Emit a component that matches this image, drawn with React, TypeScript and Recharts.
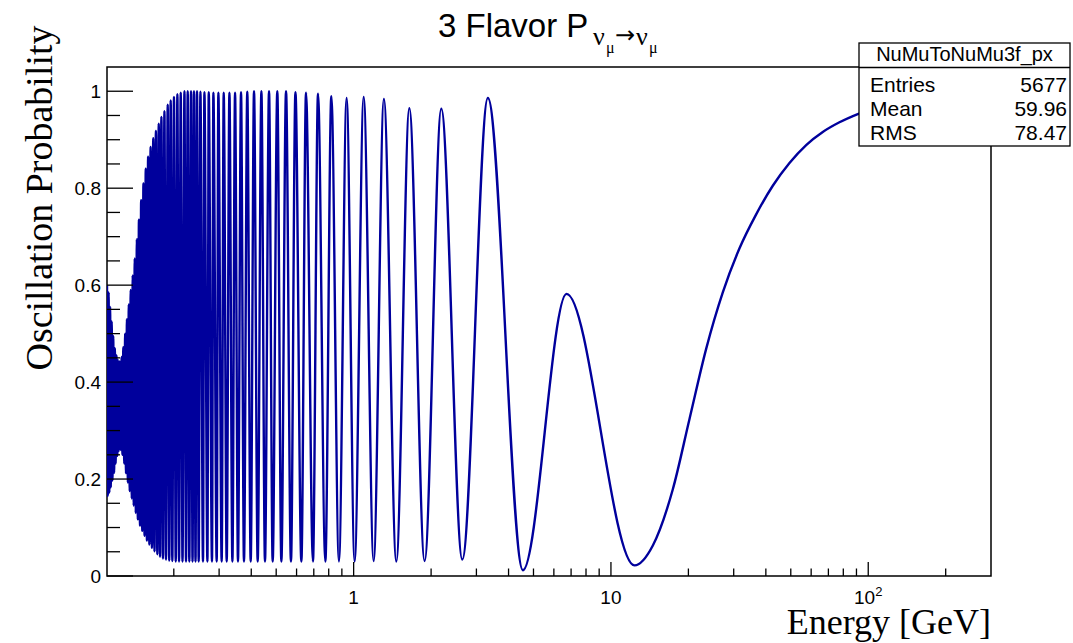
import { LineChart, Line, XAxis, YAxis, ReferenceArea } from 'recharts';

// oscillation maxima (energy in GeV, probability)
const PEAK_E = [
  0.110, 0.1116, 0.1131, 0.1147, 0.1163, 0.118, 0.1197, 0.1215, 0.1234, 0.1253,
  0.1273, 0.1294, 0.1315, 0.1337, 0.136, 0.1385, 0.141, 0.1437, 0.1464, 0.1493,
  0.1524, 0.1556, 0.1589, 0.1625, 0.1664, 0.1704, 0.1748, 0.179, 0.1839, 0.1894,
  0.1945, 0.2003, 0.2065, 0.2128, 0.22, 0.2265, 0.2333, 0.2396, 0.2462, 0.2538,
  0.263, 0.2734, 0.285, 0.298, 0.3126, 0.329, 0.346, 0.365, 0.386, 0.41,
  0.438, 0.469, 0.505, 0.546, 0.594, 0.653, 0.727, 0.819, 0.939, 1.094,
  1.311, 1.646, 2.191, 3.324, 6.72,
];
const PEAK_P = [
  0.6, 0.585, 0.555, 0.525, 0.495, 0.47, 0.455, 0.445, 0.443, 0.452,
  0.472, 0.5, 0.53, 0.56, 0.59, 0.62, 0.655, 0.695, 0.735, 0.775,
  0.81, 0.84, 0.865, 0.885, 0.903, 0.918, 0.933, 0.947, 0.959, 0.972,
  0.981, 0.988, 0.994, 0.997, 1.0, 1.0, 1.0, 1.0, 1.0, 0.999,
  0.998, 0.998, 0.997, 0.997, 0.997, 0.997, 0.997, 0.998, 0.999, 1.0,
  1.0, 1.0, 1.0, 1.0, 0.998, 0.997, 0.995, 0.99, 0.986, 0.988,
  0.984, 0.965, 0.964, 0.986, 0.582,
];

// oscillation minima
const TROUGH_E = [
  0.1108, 0.1123, 0.1138, 0.1155, 0.1172, 0.1188, 0.1206, 0.1224, 0.1243, 0.1263,
  0.1284, 0.1304, 0.1326, 0.1348, 0.1373, 0.1397, 0.1423, 0.145, 0.1478, 0.1508,
  0.1539, 0.1572, 0.1607, 0.1644, 0.1683, 0.1726, 0.1768, 0.1815, 0.1865, 0.192,
  0.1974, 0.2035, 0.2096, 0.2162, 0.2231, 0.2298, 0.2365, 0.2429, 0.2499, 0.2597,
  0.2702, 0.2815, 0.2936, 0.307, 0.3211, 0.3379, 0.3552, 0.3748, 0.398, 0.4237,
  0.4523, 0.4845, 0.5237, 0.5707, 0.6264, 0.6948, 0.7763, 0.8768, 1.009, 1.196,
  1.465, 1.887, 2.644, 4.548, 12.35,
];
const TROUGH_P = [
  0.165, 0.172, 0.183, 0.197, 0.213, 0.232, 0.248, 0.258, 0.26, 0.25,
  0.232, 0.212, 0.193, 0.175, 0.16, 0.145, 0.13, 0.117, 0.104, 0.093,
  0.083, 0.073, 0.065, 0.058, 0.051, 0.045, 0.04, 0.036, 0.034, 0.032,
  0.031, 0.03, 0.03, 0.03, 0.03, 0.03, 0.03, 0.03, 0.03, 0.03,
  0.03, 0.03, 0.03, 0.03, 0.03, 0.03, 0.03, 0.03, 0.03, 0.03,
  0.03, 0.03, 0.03, 0.03, 0.03, 0.03, 0.03, 0.03, 0.03, 0.031,
  0.03, 0.031, 0.034, 0.012, 0.022,
];

// smooth rise above the last minimum
const RISE_E = [14.55, 17.4, 20.2, 23.46, 27.21, 31.6, 36.68, 42.56, 49.42, 57.38, 66.57, 77.29, 91.03, 120, 180, 300];
const RISE_P = [0.063, 0.179, 0.324, 0.469, 0.585, 0.676, 0.746, 0.805, 0.852, 0.889, 0.916, 0.936, 0.953, 0.974, 0.988, 0.996];

const X_TICKS = [0.2, 0.3, 0.4, 0.5, 0.6, 0.7, 0.8, 0.9, 1, 2, 3, 4, 5, 6, 7, 8, 9, 10, 20, 30, 40, 50, 60, 70, 80, 90, 100, 200];
const X_MAJOR = [1, 10, 100];
const Y_TICKS = [0, 0.05, 0.1, 0.15, 0.2, 0.25, 0.3, 0.35, 0.4, 0.45, 0.5, 0.55, 0.6, 0.65, 0.7, 0.75, 0.8, 0.85, 0.9, 0.95, 1];
const Y_LABELS: Record<string, string> = { '0': '0', '0.2': '0.2', '0.4': '0.4', '0.6': '0.6', '0.8': '0.8', '1': '1' };

const STAT_ROWS = [
  ['Entries', '5677'],
  ['Mean', '59.96'],
  ['RMS', '78.47'],
];

const W = 1073;
const H = 643;
const PLOT_LEFT = 107;
const PLOT_BOTTOM = 576;
const SANS = '"Liberation Sans", Arial, Helvetica, sans-serif';
const SERIF = '"Liberation Serif", "Times New Roman", serif';
const BLUE = '#00009c';

const data = [
  ...PEAK_E.map((e, i) => ({ energy: e, prob: PEAK_P[i] })),
  ...TROUGH_E.map((e, i) => ({ energy: e, prob: TROUGH_P[i] })),
  ...RISE_E.map((e, i) => ({ energy: e, prob: RISE_P[i] })),
].sort((a, b) => a.energy - b.energy);

function YTick(props: any) {
  const { y, payload } = props;
  const label = Y_LABELS[String(payload.value)];
  const major = label !== undefined;
  return (
    <g>
      <line x1={PLOT_LEFT} x2={PLOT_LEFT + (major ? 26 : 13)} y1={y} y2={y} stroke="#000" strokeWidth={1.3} />
      {major && (
        <text x={101} y={y} dy={7} textAnchor="end" fontSize={19} fontFamily={SANS} fill="#000">
          {label}
        </text>
      )}
    </g>
  );
}

function XTick(props: any) {
  const { x, payload } = props;
  const v = payload.value;
  const major = X_MAJOR.includes(v);
  return (
    <g>
      <line x1={x} x2={x} y1={PLOT_BOTTOM} y2={PLOT_BOTTOM - (major ? 14 : 7.5)} stroke="#000" strokeWidth={1.3} />
      {major && (
        <text x={x} y={PLOT_BOTTOM + 28} textAnchor="middle" fontSize={19} fontFamily={SANS} fill="#000">
          {v === 100 ? (
            <>
              10<tspan dy={-8} fontSize={13}>2</tspan>
            </>
          ) : (
            String(v)
          )}
        </text>
      )}
    </g>
  );
}

export default function App() {
  return (
    <div style={{ position: 'absolute', left: 0, top: 0, width: W, height: H, background: '#fff' }}>
      <LineChart width={W} height={H} data={data} margin={{ top: 67, right: 82, bottom: 0, left: 0 }}>
        <XAxis
          dataKey="energy"
          type="number"
          scale="log"
          domain={[0.11, 300]}
          allowDataOverflow
          ticks={X_TICKS}
          interval={0}
          height={67}
          axisLine={false}
          tickLine={false}
          tick={<XTick />}
        />
        <YAxis
          type="number"
          domain={[0, 1.05]}
          allowDataOverflow
          ticks={Y_TICKS}
          interval={0}
          width={107}
          axisLine={false}
          tickLine={false}
          tick={<YTick />}
        />
        <ReferenceArea x1={0.11} x2={300} y1={0} y2={1.05} fill="none" stroke="#000" strokeWidth={1.5} ifOverflow="visible" />
        <Line type="monotone" dataKey="prob" stroke={BLUE} strokeWidth={2.4} dot={false} isAnimationActive={false} />
      </LineChart>

      <svg width={W} height={H} style={{ position: 'absolute', left: 0, top: 0, pointerEvents: 'none' }}>
        {/* title */}
        <text x={438} y={37} fontSize={33} fontFamily={SANS} fill="#000">3 Flavor P</text>
        <text x={593} y={45} fontSize={26} fontFamily={SERIF} fill="#000">ν</text>
        <text x={606} y={53} fontSize={16} fontFamily={SERIF} fill="#000">μ</text>
        <text x={615} y={43} fontSize={24} fontFamily='"DejaVu Sans", sans-serif' fill="#000">→</text>
        <text x={636} y={45} fontSize={26} fontFamily={SERIF} fill="#000">ν</text>
        <text x={649} y={53} fontSize={16} fontFamily={SERIF} fill="#000">μ</text>

        {/* axis titles */}
        <text transform="translate(52,198) rotate(-90)" textAnchor="middle" fontSize={38} fontFamily={SERIF} fill="#000">
          Oscillation Probability
        </text>
        <text x={991} y={634} textAnchor="end" fontSize={36} fontFamily={SERIF} fill="#000">
          Energy [GeV]
        </text>

        {/* stats box */}
        <rect x={859} y={43} width={211} height={103} fill="#fff" stroke="#000" strokeWidth={1.3} />
        <line x1={859} x2={1070} y1={67.5} y2={67.5} stroke="#000" strokeWidth={1.3} />
        <text x={964.5} y={61} textAnchor="middle" fontSize={20} fontFamily={SANS} fill="#000">NuMuToNuMu3f_px</text>
        {STAT_ROWS.map(([name, val], i) => (
          <g key={name}>
            <text x={870} y={92 + i * 24} fontSize={21} fontFamily={SANS} fill="#000">{name}</text>
            <text x={1067} y={92 + i * 24} textAnchor="end" fontSize={21} fontFamily={SANS} fill="#000">{val}</text>
          </g>
        ))}
      </svg>
    </div>
  );
}
